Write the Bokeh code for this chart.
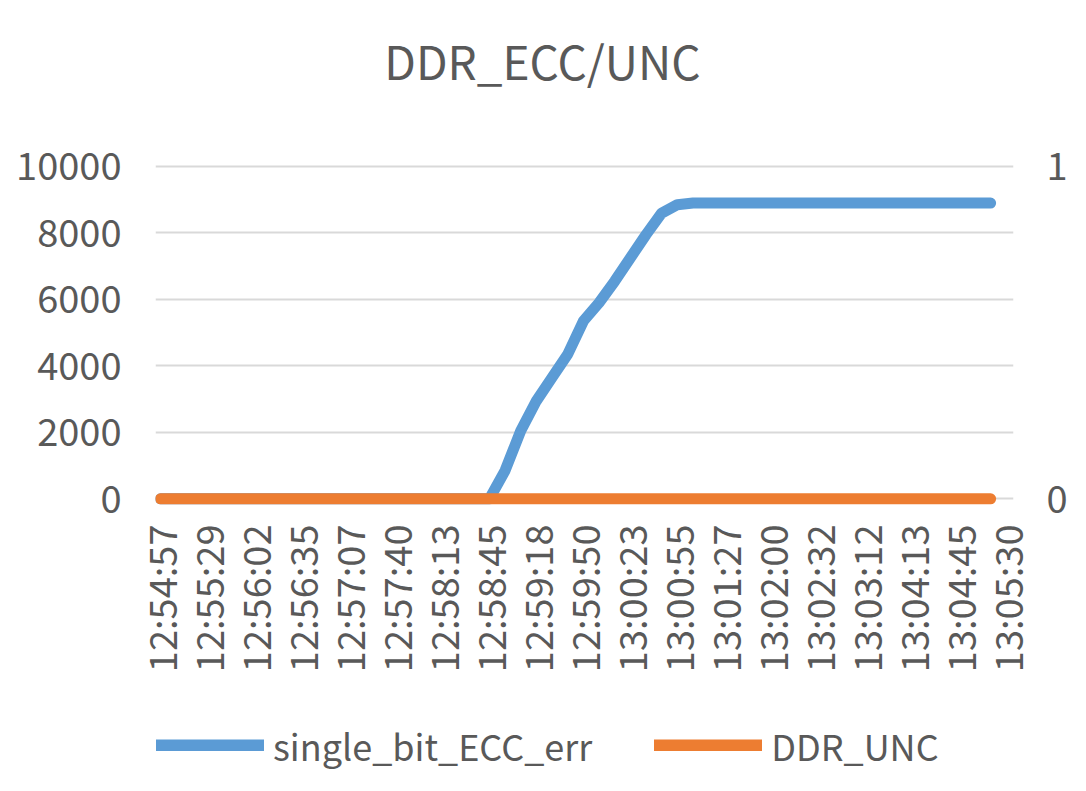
import math
from bokeh.plotting import figure
from bokeh.layouts import column
from bokeh.models import Range1d, LinearAxis, FixedTicker, Legend, LegendItem, Label
from bokeh.embed import file_html
from bokeh.resources import INLINE

title_text = "DDR_ECC/UNC"
series_names = ["single_bit_ECC_err", "DDR_UNC"]
tick_labels = ["12:54:57", "12:55:29", "12:56:02", "12:56:35", "12:57:07", "12:57:40",
               "12:58:13", "12:58:45", "12:59:18", "12:59:50", "13:00:23", "13:00:55",
               "13:01:27", "13:02:00", "13:02:32", "13:03:12", "13:04:13", "13:04:45",
               "13:05:30"]
label_step = 3
single_bit_ECC_err = [0, 0, 0, 0, 0, 0, 0, 0, 0, 0,
                      0, 0, 0, 0, 0, 0, 0, 0, 0, 0,
                      0, 0, 850, 2050, 2950, 3650, 4350, 5350, 5900, 6550,
                      7250, 7950, 8600, 8850, 8900, 8900, 8900, 8900, 8900, 8900,
                      8900, 8900, 8900, 8900, 8900, 8900, 8900, 8900, 8900, 8900,
                      8900, 8900, 8900, 8900]
DDR_UNC = [0, 0, 0, 0, 0, 0, 0, 0, 0, 0,
           0, 0, 0, 0, 0, 0, 0, 0, 0, 0,
           0, 0, 0, 0, 0, 0, 0, 0, 0, 0,
           0, 0, 0, 0, 0, 0, 0, 0, 0, 0,
           0, 0, 0, 0, 0, 0, 0, 0, 0, 0,
           0, 0, 0, 0]
left_ticks = [0, 2000, 4000, 6000, 8000, 10000]
right_ticks = [0, 1]

FONT = "Noto Sans CJK SC"
TXT = "#595959"
GRID = "#D9D9D9"
BLUE = "#5B9BD5"
ORANGE = "#ED7D31"

tick_pos = [i * label_step for i in range(len(tick_labels))]
xs = list(range(len(single_bit_ECC_err)))


def strip(height):
    f = figure(width=1070, height=height, output_backend="svg", toolbar_location=None,
               x_range=Range1d(0, 1), y_range=Range1d(0, 1),
               x_axis_location=None, y_axis_location=None, min_border=0)
    f.outline_line_color = None
    f.xgrid.visible = False
    f.ygrid.visible = False
    f.border_fill_color = "white"
    f.background_fill_color = "white"
    return f


# title strip
tf = strip(110)
tf.add_layout(Label(x=0.451, y=0.4636, text=title_text, text_align="center",
                    text_baseline="middle", text_font=FONT, text_font_size="46px",
                    text_color=TXT))

# main chart
p = figure(width=1070, height=590, output_backend="svg", toolbar_location=None,
           x_range=Range1d(-0.32, 54.46), y_range=Range1d(-200, 10060),
           min_border_left=155, min_border_right=55, min_border_top=54,
           min_border_bottom=195)
p.outline_line_color = None
p.background_fill_color = "white"
p.border_fill_color = "white"

p.extra_y_ranges = {"sec": Range1d(-0.02, 1.006)}

xa = p.xaxis[0]
xa.ticker = FixedTicker(ticks=tick_pos)
xa.major_label_overrides = {pos: lab for pos, lab in zip(tick_pos, tick_labels)}
xa.major_label_orientation = math.pi / 2
xa.axis_line_color = None
xa.major_tick_line_color = None
xa.minor_tick_line_color = None
xa.major_label_standoff = 13
xa.major_label_text_font = FONT
xa.major_label_text_font_size = "38px"
xa.major_label_text_color = TXT

ya = p.yaxis[0]
ya.ticker = FixedTicker(ticks=left_ticks)
ya.axis_line_color = None
ya.major_tick_line_color = None
ya.minor_tick_line_color = None
ya.major_label_standoff = 28
ya.major_label_text_font = FONT
ya.major_label_text_font_size = "38px"
ya.major_label_text_color = TXT

ra = LinearAxis(y_range_name="sec", ticker=FixedTicker(ticks=right_ticks))
ra.axis_line_color = None
ra.major_tick_line_color = None
ra.minor_tick_line_color = None
ra.major_label_standoff = 27
ra.major_label_text_font = FONT
ra.major_label_text_font_size = "38px"
ra.major_label_text_color = TXT
p.add_layout(ra, "right")

p.xgrid.visible = False
p.ygrid.ticker = FixedTicker(ticks=left_ticks)
p.ygrid.grid_line_color = GRID
p.ygrid.grid_line_width = 2

r1 = p.line(xs, single_bit_ECC_err, line_color=BLUE, line_width=11,
            line_cap="round", line_join="round")
r2 = p.line(xs, DDR_UNC, y_range_name="sec", line_color=ORANGE, line_width=11,
            line_cap="round", line_join="round")

# legend strip (its swatch renderers sit outside the strip's visible range)
lf = strip(75)
lf.y_range = Range1d(-3, -2)
l1 = lf.line(xs, single_bit_ECC_err, line_color=BLUE, line_width=12, line_cap="round")
l2 = lf.line(xs, DDR_UNC, line_color=ORANGE, line_width=12, line_cap="round")
legend = Legend(items=[LegendItem(label=series_names[0], renderers=[l1]),
                       LegendItem(label=series_names[1], renderers=[l2])],
                orientation="horizontal", location=(1, 4))
legend.border_line_color = None
legend.background_fill_alpha = 0
legend.padding = 0
legend.margin = 0
legend.spacing = 62
legend.glyph_width = 108
legend.glyph_height = 12
legend.label_standoff = 9
legend.label_text_font = FONT
legend.label_text_font_size = "36px"
legend.label_text_color = TXT
lf.add_layout(legend)

layout = column(tf, p, lf, spacing=0)
open("out.html", "w").write(file_html(layout, INLINE))
